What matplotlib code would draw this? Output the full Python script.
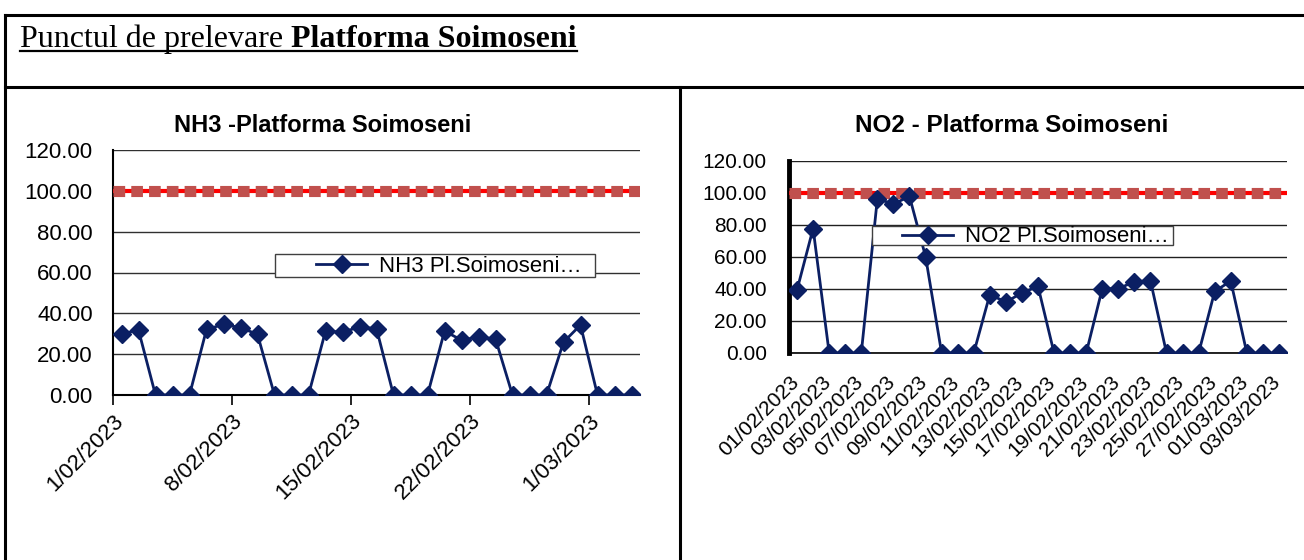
import matplotlib
matplotlib.use("Agg")
import matplotlib.pyplot as plt
import pandas as pd
from matplotlib.lines import Line2D
from matplotlib.patches import Rectangle
from matplotlib.transforms import ScaledTranslation

# data
dates = pd.date_range("2023-02-01", "2023-03-03", freq="D")
nh3 = [30.0, 31.8, 0, 0, 0, 32.1, 34.6, 33.0, 29.7, 0, 0, 0, 31.3, 30.8, 33.3, 32.5,
       0, 0, 0, 31.3, 26.9, 28.4, 27.5, 0, 0, 0, 25.9, 34.3, 0, 0, 0]
no2 = [39.4, 77.8, 0, 0, 0, 96.4, 93.1, 97.9, 60.3, 0, 0, 0, 36.5, 31.9, 37.5, 41.7,
       0, 0, 0, 40.2, 40.2, 44.6, 45.2, 0, 0, 0, 38.5, 45.0, 0, 0, 0]
limit = 100
nh3_ticks = ["1/02/2023", "8/02/2023", "15/02/2023", "22/02/2023", "1/03/2023"]
no2_labels = [d.strftime("%d/%m/%Y") for d in dates]

navy = "#0B1F63"
W, H = 1304, 560
fig = plt.figure(figsize=(W / 100, H / 100), dpi=100)
plt.rcParams["font.family"] = ["Liberation Sans", "DejaVu Sans"]


def fx(px):
    return px / W


def fy(py):
    return 1 - py / H


def limit_line(ax):
    ax.axhline(limit, color="#FF0000", lw=3, zorder=3)
    ax.axhline(limit, color="#C0504D", lw=8, ls=(0, (1.05, 0.55)),
               dash_capstyle="butt", zorder=3)


def legend_box(ax, box, handle_x, text_y):
    # box = (x0, y0, x1, y1) in pixels from the top-left
    x0, y0, x1, y1 = box
    ax.add_patch(Rectangle((fx(x0), fy(y1)), fx(x1 - x0), (y1 - y0) / H,
                           transform=fig.transFigure, facecolor="white",
                           edgecolor="#404040", lw=1, zorder=5, clip_on=False))
    leg = ax.legend(loc="center left", bbox_to_anchor=(fx(handle_x), fy(text_y)),
                    bbox_transform=fig.transFigure, fontsize=16, frameon=False,
                    borderpad=0, borderaxespad=0, handlelength=2.3,
                    handletextpad=0.55)
    leg.set_zorder(6)
    return leg


# ---- NH3 panel ----
ax1 = fig.add_axes([fx(113), fy(395), fx(640 - 113), (395 - 150) / H])
x1 = list(range(len(nh3)))
limit_line(ax1)
ax1.plot(x1, nh3, color=navy, lw=2, marker="D", ms=9, mfc=navy, mec=navy, zorder=4,
         label="NH3 Pl.Soimoseni…")
ax1.set_xlim(-0.5, len(nh3) - 0.5)
ax1.set_ylim(0, 120)
ax1.set_yticks(range(0, 121, 20))
ax1.set_yticklabels([f"{v:.2f}" for v in range(0, 121, 20)], fontsize=16)
ax1.set_xticks([-0.5 + 7 * i for i in range(len(nh3_ticks))])
ax1.set_xticklabels(nh3_ticks, fontsize=16, rotation=45, ha="right",
                    rotation_mode="anchor")
ax1.tick_params(axis="y", length=0, pad=14.5)
ax1.tick_params(axis="x", length=7, width=1.2, direction="out", pad=4)
ax1.grid(axis="y", color="#303030", lw=1)
ax1.set_axisbelow(True)
for s in ["top", "right"]:
    ax1.spines[s].set_visible(False)
ax1.spines["left"].set_linewidth(1.5)
ax1.spines["bottom"].set_linewidth(1.5)
fig.text(fx(323), fy(125), "NH3 -Platforma Soimoseni", fontsize=17,
         fontweight="bold", ha="center", va="center")
legend_box(ax1, (275, 254, 595, 277), 316, 266)

# ---- NO2 panel ----
ax2 = fig.add_axes([fx(789), fy(353), fx(1287 - 789), (353 - 161) / H])
x2 = list(range(len(no2)))
limit_line(ax2)
ax2.plot(x2, no2, color=navy, lw=2, marker="D", ms=9, mfc=navy, mec=navy, zorder=4,
         label="NO2 Pl.Soimoseni…")
ax2.set_xlim(-0.5, len(no2) - 0.5)
ax2.set_ylim(0, 120)
ax2.set_yticks(range(0, 121, 20))
ax2.set_yticklabels([f"{v:.2f}" for v in range(0, 121, 20)], fontsize=15)
ax2.set_xticks(x2[::2])
ax2.set_xticklabels(no2_labels[::2], fontsize=15, rotation=45, ha="right",
                    rotation_mode="anchor")
ax2.tick_params(axis="y", length=0, pad=16)
ax2.tick_params(axis="x", length=0, pad=14)
shift = ScaledTranslation(-0.08, 0, fig.dpi_scale_trans)
for lab in ax2.get_xticklabels():
    lab.set_transform(lab.get_transform() + shift)
ax2.grid(axis="y", color="#202020", lw=1)
ax2.set_axisbelow(True)
for s in ["top", "right"]:
    ax2.spines[s].set_visible(False)
ax2.spines["left"].set_linewidth(3.5)
ax2.spines["bottom"].set_linewidth(1.2)
fig.text(fx(1012), fy(126), "NO2 - Platforma Soimoseni", fontsize=17.5,
         fontweight="bold", ha="center", va="center")
legend_box(ax2, (872, 226, 1173, 245), 902, 237)

# ---- page frame / header ----
lw = 2.2
fig.add_artist(Line2D([fx(5), 1], [fy(15), fy(15)], color="black", lw=lw))
fig.add_artist(Line2D([fx(5), 1], [fy(87), fy(87)], color="black", lw=lw))
fig.add_artist(Line2D([fx(5), fx(5)], [0, fy(15)], color="black", lw=lw))
fig.add_artist(Line2D([fx(680), fx(680)], [0, fy(87)], color="black", lw=lw))

t1 = fig.text(fx(20), fy(47), "Punctul de prelevare ", fontsize=23,
              family="Liberation Serif", va="baseline")
fig.canvas.draw()
r = fig.canvas.get_renderer()
bb1 = t1.get_window_extent(r)
t2 = fig.text(bb1.x1 / W, fy(47), "Platforma Soimoseni", fontsize=23,
              family="Liberation Serif", fontweight="bold", va="baseline")
bb2 = t2.get_window_extent(r)
fig.add_artist(Line2D([bb1.x0 / W, bb2.x1 / W], [fy(51), fy(51)], color="black", lw=1.6))

fig.savefig("out.png", dpi=100)
